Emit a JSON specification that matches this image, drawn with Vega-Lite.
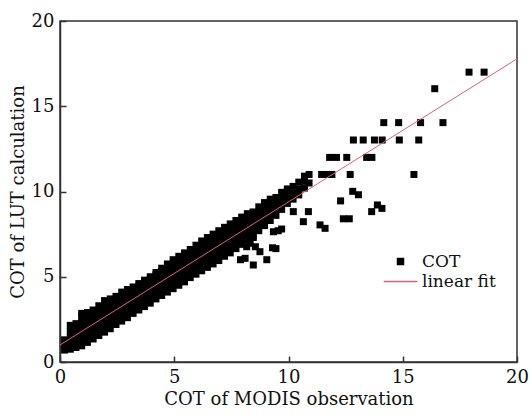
{
"$schema": "https://vega.github.io/schema/vega-lite/v6.json",
"width": 457, "height": 341,
"autosize": {"type": "none"},
"padding": {"left": 60, "top": 21, "right": 12, "bottom": 53},
"config": {
  "font": "DejaVu Serif",
  "view": {"stroke": "#333333", "strokeWidth": 1.5},
  "axis": {"grid": false, "domainColor": "#333333", "domainWidth": 1.5, "tickColor": "#333333", "tickWidth": 1.5, "tickSize": -6, "labelFont": "DejaVu Serif", "labelFontSize": 18, "labelColor": "#111111", "titleFont": "DejaVu Serif", "titleFontSize": 18, "titleFontWeight": "normal", "titleColor": "#111111", "labelFlush": false, "labelOverlap": false}
},
"datasets": {
"pts": [
{"x":0.2,"y":0.7},{"x":0.2,"y":1.0},{"x":0.2,"y":1.3},
{"x":0.45,"y":0.75},{"x":0.45,"y":1.1},{"x":0.45,"y":1.45},{"x":0.45,"y":1.8},{"x":0.45,"y":2.15},
{"x":0.7,"y":0.85},{"x":0.7,"y":1.2},{"x":0.7,"y":1.55},{"x":0.7,"y":1.9},{"x":0.7,"y":2.25},
{"x":0.95,"y":0.95},{"x":0.95,"y":1.3},{"x":0.95,"y":1.65},{"x":0.95,"y":2.0},{"x":0.95,"y":2.35},{"x":0.95,"y":2.7},{"x":0.95,"y":2.85},
{"x":1.2,"y":1.15},{"x":1.2,"y":1.5},{"x":1.2,"y":1.85},{"x":1.2,"y":2.2},{"x":1.2,"y":2.55},{"x":1.2,"y":2.9},
{"x":1.45,"y":1.35},{"x":1.45,"y":1.7},{"x":1.45,"y":2.05},{"x":1.45,"y":2.4},{"x":1.45,"y":2.75},{"x":1.45,"y":3.05},
{"x":1.7,"y":1.55},{"x":1.7,"y":1.9},{"x":1.7,"y":2.25},{"x":1.7,"y":2.6},{"x":1.7,"y":2.95},{"x":1.7,"y":3.3},
{"x":1.95,"y":1.75},{"x":1.95,"y":2.1},{"x":1.95,"y":2.45},{"x":1.95,"y":2.8},{"x":1.95,"y":3.15},{"x":1.95,"y":3.5},{"x":1.95,"y":3.6},
{"x":2.2,"y":1.95},{"x":2.2,"y":2.3},{"x":2.2,"y":2.65},{"x":2.2,"y":3.0},{"x":2.2,"y":3.35},{"x":2.2,"y":3.7},
{"x":2.45,"y":2.2},{"x":2.45,"y":2.55},{"x":2.45,"y":2.9},{"x":2.45,"y":3.25},{"x":2.45,"y":3.6},{"x":2.45,"y":3.85},
{"x":2.7,"y":2.4},{"x":2.7,"y":2.75},{"x":2.7,"y":3.1},{"x":2.7,"y":3.45},{"x":2.7,"y":3.8},{"x":2.7,"y":4.1},
{"x":2.95,"y":2.6},{"x":2.95,"y":2.95},{"x":2.95,"y":3.3},{"x":2.95,"y":3.65},{"x":2.95,"y":4.0},{"x":2.95,"y":4.25},
{"x":3.2,"y":2.85},{"x":3.2,"y":3.2},{"x":3.2,"y":3.55},{"x":3.2,"y":3.9},{"x":3.2,"y":4.25},{"x":3.2,"y":4.4},
{"x":3.45,"y":3.05},{"x":3.45,"y":3.4},{"x":3.45,"y":3.75},{"x":3.45,"y":4.1},{"x":3.45,"y":4.45},{"x":3.45,"y":4.6},
{"x":3.7,"y":3.25},{"x":3.7,"y":3.6},{"x":3.7,"y":3.95},{"x":3.7,"y":4.3},{"x":3.7,"y":4.65},{"x":3.7,"y":4.8},
{"x":3.95,"y":3.45},{"x":3.95,"y":3.8},{"x":3.95,"y":4.15},{"x":3.95,"y":4.5},{"x":3.95,"y":4.85},{"x":3.95,"y":5.0},
{"x":4.2,"y":3.7},{"x":4.2,"y":4.05},{"x":4.2,"y":4.4},{"x":4.2,"y":4.75},{"x":4.2,"y":5.1},{"x":4.2,"y":5.25},
{"x":4.45,"y":3.9},{"x":4.45,"y":4.25},{"x":4.45,"y":4.6},{"x":4.45,"y":4.95},{"x":4.45,"y":5.3},{"x":4.45,"y":5.5},
{"x":4.7,"y":4.1},{"x":4.7,"y":4.45},{"x":4.7,"y":4.8},{"x":4.7,"y":5.15},{"x":4.7,"y":5.5},{"x":4.7,"y":5.75},
{"x":4.95,"y":4.3},{"x":4.95,"y":4.65},{"x":4.95,"y":5.0},{"x":4.95,"y":5.35},{"x":4.95,"y":5.7},{"x":4.95,"y":6.0},
{"x":5.2,"y":4.5},{"x":5.2,"y":4.85},{"x":5.2,"y":5.2},{"x":5.2,"y":5.55},{"x":5.2,"y":5.9},{"x":5.2,"y":6.2},
{"x":5.45,"y":4.7},{"x":5.45,"y":5.05},{"x":5.45,"y":5.4},{"x":5.45,"y":5.75},{"x":5.45,"y":6.1},{"x":5.45,"y":6.4},
{"x":5.7,"y":4.95},{"x":5.7,"y":5.3},{"x":5.7,"y":5.65},{"x":5.7,"y":6.0},{"x":5.7,"y":6.35},{"x":5.7,"y":6.6},
{"x":5.95,"y":5.15},{"x":5.95,"y":5.5},{"x":5.95,"y":5.85},{"x":5.95,"y":6.2},{"x":5.95,"y":6.55},{"x":5.95,"y":6.85},
{"x":6.2,"y":5.35},{"x":6.2,"y":5.7},{"x":6.2,"y":6.05},{"x":6.2,"y":6.4},{"x":6.2,"y":6.75},{"x":6.2,"y":7.1},
{"x":6.45,"y":5.55},{"x":6.45,"y":5.9},{"x":6.45,"y":6.25},{"x":6.45,"y":6.6},{"x":6.45,"y":6.95},{"x":6.45,"y":7.3},
{"x":6.7,"y":5.75},{"x":6.7,"y":6.1},{"x":6.7,"y":6.45},{"x":6.7,"y":6.8},{"x":6.7,"y":7.15},{"x":6.7,"y":7.5},
{"x":6.95,"y":5.95},{"x":6.95,"y":6.3},{"x":6.95,"y":6.65},{"x":6.95,"y":7.0},{"x":6.95,"y":7.35},{"x":6.95,"y":7.7},
{"x":7.2,"y":6.2},{"x":7.2,"y":6.55},{"x":7.2,"y":6.9},{"x":7.2,"y":7.25},{"x":7.2,"y":7.6},{"x":7.2,"y":7.9},
{"x":7.45,"y":6.4},{"x":7.45,"y":6.75},{"x":7.45,"y":7.1},{"x":7.45,"y":7.45},{"x":7.45,"y":7.8},{"x":7.45,"y":8.1},
{"x":7.7,"y":6.65},{"x":7.7,"y":7.0},{"x":7.7,"y":7.35},{"x":7.7,"y":7.7},{"x":7.7,"y":8.05},{"x":7.7,"y":8.3},
{"x":7.95,"y":6.9},{"x":7.95,"y":7.25},{"x":7.95,"y":7.6},{"x":7.95,"y":7.95},{"x":7.95,"y":8.3},{"x":7.95,"y":8.5},
{"x":8.2,"y":7.15},{"x":8.2,"y":7.5},{"x":8.2,"y":7.85},{"x":8.2,"y":8.2},{"x":8.2,"y":8.55},{"x":8.2,"y":8.7},
{"x":8.45,"y":7.4},{"x":8.45,"y":7.75},{"x":8.45,"y":8.1},{"x":8.45,"y":8.45},{"x":8.45,"y":8.8},
{"x":8.7,"y":7.7},{"x":8.7,"y":8.05},{"x":8.7,"y":8.4},{"x":8.7,"y":8.75},{"x":8.7,"y":9.1},
{"x":8.95,"y":8.0},{"x":8.95,"y":8.35},{"x":8.95,"y":8.7},{"x":8.95,"y":9.05},{"x":8.95,"y":9.35},
{"x":9.2,"y":8.3},{"x":9.2,"y":8.65},{"x":9.2,"y":9.0},{"x":9.2,"y":9.35},{"x":9.2,"y":9.55},
{"x":9.45,"y":8.6},{"x":9.45,"y":8.95},{"x":9.45,"y":9.3},{"x":9.45,"y":9.65},
{"x":9.7,"y":8.95},{"x":9.7,"y":9.3},{"x":9.7,"y":9.65},{"x":9.7,"y":9.95},
{"x":9.95,"y":9.3},{"x":9.95,"y":9.65},{"x":9.95,"y":10.0},{"x":9.95,"y":10.15},
{"x":10.2,"y":9.55},{"x":10.2,"y":9.9},{"x":10.2,"y":10.3},
{"x":10.45,"y":9.8},{"x":10.45,"y":10.15},{"x":10.45,"y":10.55},
{"x":10.7,"y":10.2},{"x":10.7,"y":10.6},{"x":10.7,"y":10.9},
{"x":10.9,"y":10.5},{"x":10.9,"y":11.0},
{"x":17.9,"y":17.0},{"x":18.56,"y":17.0},{"x":16.4,"y":16.03},
{"x":14.17,"y":14.04},{"x":14.82,"y":14.04},{"x":15.78,"y":14.04},{"x":16.76,"y":14.04},
{"x":12.84,"y":13.02},{"x":13.27,"y":13.02},{"x":13.76,"y":13.02},{"x":14.1,"y":13.02},{"x":14.85,"y":13.02},{"x":15.7,"y":13.02},
{"x":11.8,"y":12.0},{"x":12.1,"y":12.0},{"x":12.55,"y":12.0},{"x":13.42,"y":12.0},{"x":13.65,"y":12.0},
{"x":11.45,"y":11.0},{"x":11.67,"y":11.0},{"x":11.9,"y":11.0},{"x":12.7,"y":11.0},{"x":15.49,"y":11.0},
{"x":12.81,"y":10.01},{"x":13.06,"y":9.81},{"x":12.28,"y":9.45},{"x":12.4,"y":8.4},{"x":12.66,"y":8.4},
{"x":13.64,"y":8.82},{"x":13.89,"y":9.21},{"x":14.09,"y":9.01},
{"x":10.21,"y":8.82},{"x":10.87,"y":8.82},{"x":10.65,"y":8.23},{"x":11.38,"y":8.04},{"x":11.6,"y":7.84},
{"x":9.34,"y":7.64},{"x":9.7,"y":7.8},{"x":9.55,"y":7.7},{"x":8.46,"y":7.3},
{"x":9.3,"y":6.7},{"x":8.75,"y":6.47},{"x":8.17,"y":6.76},{"x":8.32,"y":6.96},{"x":8.46,"y":5.69},
{"x":8.1,"y":6.08},{"x":7.9,"y":6.0},{"x":9.05,"y":6.0},{"x":8.55,"y":6.76},{"x":9.45,"y":6.65}
],
"fit": [{"x": 0, "y": 1.0}, {"x": 20, "y": 17.78}]
},
"layer": [
  {
    "data": {"name": "pts"},
    "mark": {"type": "point", "filled": true, "opacity": 1, "size": 49},
    "encoding": {
      "x": {"field": "x", "type": "quantitative", "scale": {"domain": [0, 20], "nice": false}, "axis": {"values": [0, 5, 10, 15, 20], "title": "COT of MODIS observation", "titleX": 228.5, "titleAlign": "center", "titlePadding": 4, "labelPadding": 12}},
      "y": {"field": "y", "type": "quantitative", "scale": {"domain": [0, 20], "nice": false}, "axis": {"values": [0, 5, 10, 15, 20], "title": "COT of LUT calculation", "titlePadding": 4, "labelPadding": 12}},
      "color": {"datum": "COT", "type": "nominal", "scale": {"domain": ["COT", "linear fit"], "range": ["#000000", "#e0607a"]},
        "legend": {"orient": "none", "legendX": 332, "legendY": 232, "title": null, "padding": 0, "symbolSize": 36, "labelFont": "DejaVu Serif", "labelFontSize": 17, "labelColor": "#111111", "labelOffset": 13, "rowPadding": 2,
          "encode": {"symbols": {
            "fill": {"condition": {"test": "datum.value === 'linear fit'", "value": "#e0607a"}, "value": "#000000"},
            "stroke": {"condition": {"test": "datum.value === 'linear fit'", "value": "#e0607a"}, "value": "#000000"},
            "strokeWidth": {"value": 1.2},
            "opacity": {"value": 1}
          }}}},
      "shape": {"datum": "COT", "type": "nominal", "scale": {"domain": ["COT", "linear fit"], "range": ["square", "M-5.6,0H5.6"]}}
    }
  },
  {
    "data": {"name": "fit"},
    "mark": {"type": "line", "strokeWidth": 1},
    "encoding": {
      "x": {"field": "x", "type": "quantitative"},
      "y": {"field": "y", "type": "quantitative"},
      "color": {"datum": "linear fit", "type": "nominal"}
    }
  }
]
}
